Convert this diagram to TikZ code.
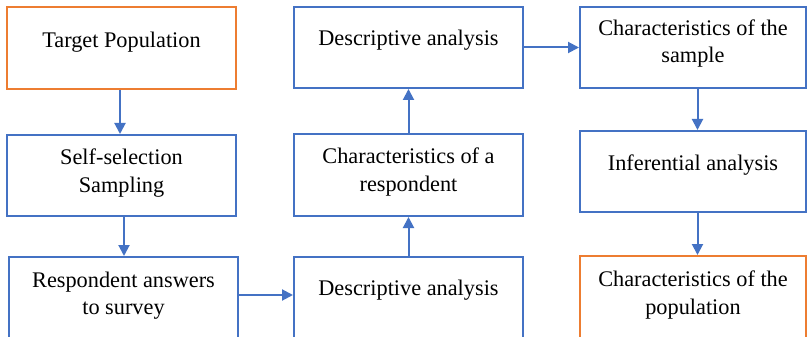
\documentclass[tikz,border=0pt]{standalone}
\usepackage{fontspec}
\setmainfont{Liberation Serif}
\usetikzlibrary{arrows.meta}
\definecolor{flowblue}{HTML}{4472C4}
\definecolor{floworange}{HTML}{ED7D31}
\tikzset{
  stagebox/.style={draw=flowblue, line width=2pt, rectangle, minimum width=229pt,
                   minimum height=82pt, inner sep=0pt, fill=white},
  endbox/.style={stagebox, draw=floworange},
  boxtext/.style={align=center, inner sep=0pt, font=\fontsize{22.3}{27.5}\selectfont},
  flow/.style={draw=flowblue, line width=2pt, -{Triangle[length=11pt,width=11pt]}}
}
\begin{document}
\begin{tikzpicture}[x=1pt,y=-1pt]
\useasboundingbox (0,0) rectangle (807,337);
\clip (0,0) rectangle (807,337);
\fill[white] (0,0) rectangle (807,337);

% left column
\node[endbox]   (tp) at (121.5,48)  {};
\node[stagebox, minimum height=81pt] (ss) at (121.5,175.5) {};
\node[stagebox] (ra) at (123.5,298) {};
% middle column
\node[stagebox, minimum height=81pt] (d1) at (408.5,47.5) {};
\node[stagebox] (cr) at (408.5,175) {};
\node[stagebox] (d2) at (408.5,298) {};
% right column
\node[stagebox, minimum width=226pt, minimum height=81pt] (cs) at (693,47.5) {};
\node[stagebox, minimum width=226pt, minimum height=81pt] (ia) at (693,171.5) {};
\node[endbox, minimum width=226pt] (cp) at (693,297) {};

% box texts
\node[boxtext] (tptx) at (121.5,42.5)  {Target Population};
\node[boxtext] (sstx) at (121.5,173)   {Self-selection\\Sampling};
\node[boxtext] (ratx) at (123.5,295.5) {Respondent answers\\to survey};
\node[boxtext] (d1tx) at (408.5,40.5)  {Descriptive analysis};
\node[boxtext] (crtx) at (408.5,172)   {Characteristics of a\\respondent};
\node[boxtext] (d2tx) at (408.5,290.5) {Descriptive analysis};
\node[boxtext] (cstx) at (693,43.5)    {Characteristics of the\\sample};
\node[boxtext] (iatx) at (693,165.5)   {Inferential analysis};
\node[boxtext] (cptx) at (693,295)     {Characteristics of the\\population};

% connectors
\draw[flow] ([xshift=-1.5pt]tp.south) -- ([xshift=-1.5pt]tp.south |- ss.north);
\draw[flow] ([xshift=0.5pt]ra.north |- ss.south) -- ([xshift=0.5pt]ra.north);
\draw[flow] ([yshift=3pt]ra.east) -- ([yshift=3pt]ra.east -| d2.west);
\draw[flow] (d2.north) -- (cr.south);
\draw[flow] (cr.north) -- (d1.south);
\draw[flow] (d1.east) -- (d1.east -| cs.west);
\draw[flow] ([xshift=4.5pt]cs.south) -- ([xshift=4.5pt]cs.south |- ia.north);
\draw[flow] ([xshift=4.5pt]ia.south) -- ([xshift=4.5pt]ia.south |- cp.north);
\end{tikzpicture}
\end{document}
